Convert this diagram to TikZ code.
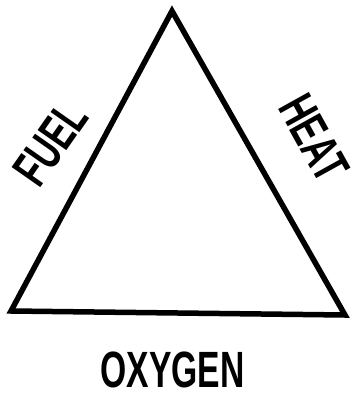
\documentclass[tikz,border=0pt]{standalone}
\usepackage{fontspec}
\usepackage{graphicx}
\setmainfont{Liberation Sans}
\newcommand{\lbltext}[1]{\scalebox{0.66}[1]{\bfseries\fontsize{51}{51}\selectfont #1}}
\begin{document}
\begin{tikzpicture}[x=1pt,y=-1pt,
  edge/.style={line width=5.5pt,line join=miter,black},
  lbl/.style={inner sep=0pt,anchor=center}]
\useasboundingbox (0,0) rectangle (354,397);
\coordinate (apex) at (172,11);
\coordinate (bl) at (11,311);
\coordinate (br) at (345,315);
\draw[edge] (apex) -- (bl) -- (br) -- cycle;
\node[lbl,rotate=55] (fuel) at (50.5,143.5) {\lbltext{FUEL}};
\node[lbl,rotate=-61] (heat) at (314,138) {\lbltext{HEAT}};
\node[lbl] (oxygen) at (172.5,369.5) {\lbltext{OXYGEN}};
\end{tikzpicture}
\end{document}
